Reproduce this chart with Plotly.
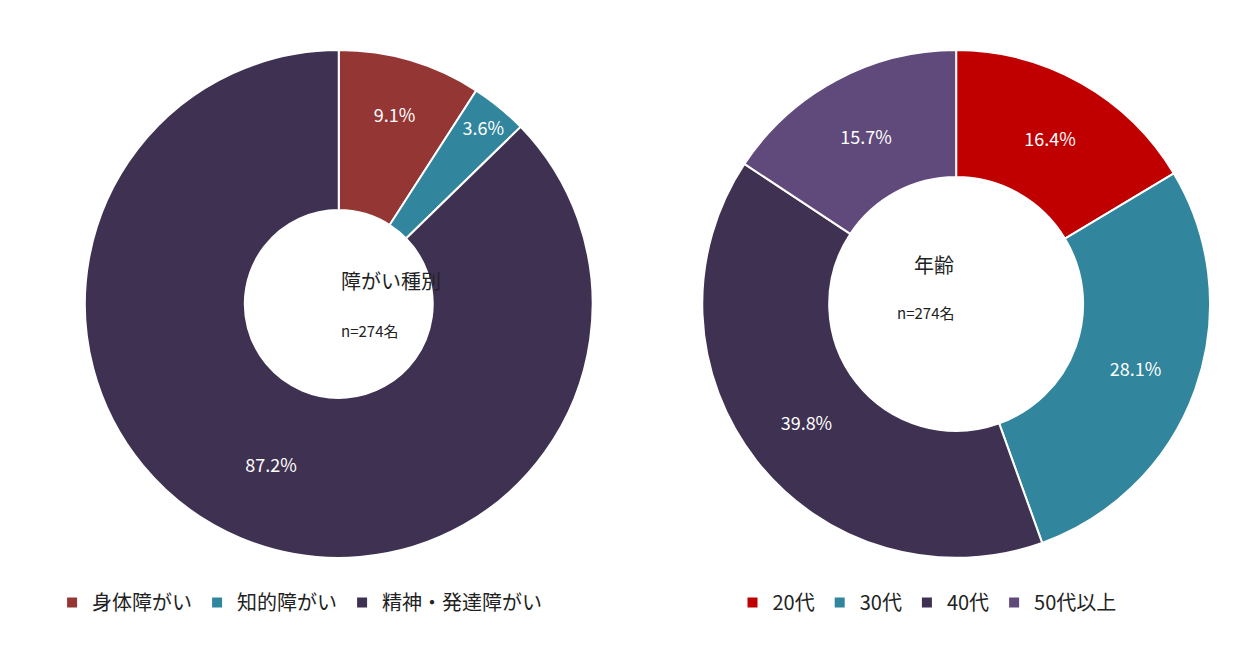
import plotly.graph_objects as go

# 障がい種別
type_labels = ["身体障がい", "知的障がい", "精神・発達障がい"]
type_values = [9.1, 3.6, 87.2]
type_colors = ["#943634", "#31859C", "#3F3151"]

# 年齢
age_labels = ["20代", "30代", "40代", "50代以上"]
age_values = [16.4, 28.1, 39.8, 15.7]
age_colors = ["#C00000", "#31859C", "#3F3151", "#604A7B"]

font = "Noto Sans CJK JP"

fig = go.Figure()
fig.add_trace(go.Pie(
    labels=type_labels, values=type_values, hole=0.37, sort=False,
    direction="clockwise", rotation=0,
    marker=dict(colors=type_colors, line=dict(color="white", width=2)),
    texttemplate="%{value:.1f}%", textposition="inside", insidetextorientation="horizontal",
    textfont=dict(color="white", size=18),
    domain=dict(x=[0.061, 0.464], y=[0.163, 0.936]),
    legend="legend",
))
fig.add_trace(go.Pie(
    labels=age_labels, values=age_values, hole=0.5, sort=False,
    direction="clockwise", rotation=0,
    marker=dict(colors=age_colors, line=dict(color="white", width=2)),
    texttemplate="%{value:.1f}%", textposition="inside", insidetextorientation="horizontal",
    textfont=dict(color="white", size=18),
    domain=dict(x=[0.551, 0.954], y=[0.163, 0.936]),
    legend="legend2",
))

fig.update_layout(
    width=1260, height=657,
    margin=dict(l=0, r=0, t=0, b=0),
    paper_bgcolor="white",
    font=dict(family=font, size=18, color="#222"),
    legend=dict(orientation="h", x=0.035, y=0.125, xanchor="left", yanchor="top",
                font=dict(size=20), itemwidth=30),
    legend2=dict(orientation="h", x=0.575, y=0.125, xanchor="left", yanchor="top",
                 font=dict(size=20), itemwidth=30),
    annotations=[
        dict(text="障がい種別", x=331/1260, y=1-272/657, xref="paper", yref="paper",
             showarrow=False, font=dict(size=20)),
        dict(text="n=274名", x=331/1260, y=1-322/657, xref="paper", yref="paper",
             showarrow=False, font=dict(size=15)),
        dict(text="年齢", x=948/1260, y=1-256/657, xref="paper", yref="paper",
             showarrow=False, font=dict(size=20)),
        dict(text="n=274名", x=948/1260, y=1-304/657, xref="paper", yref="paper",
             showarrow=False, font=dict(size=15)),
    ],
)

fig.write_html("out.html")
